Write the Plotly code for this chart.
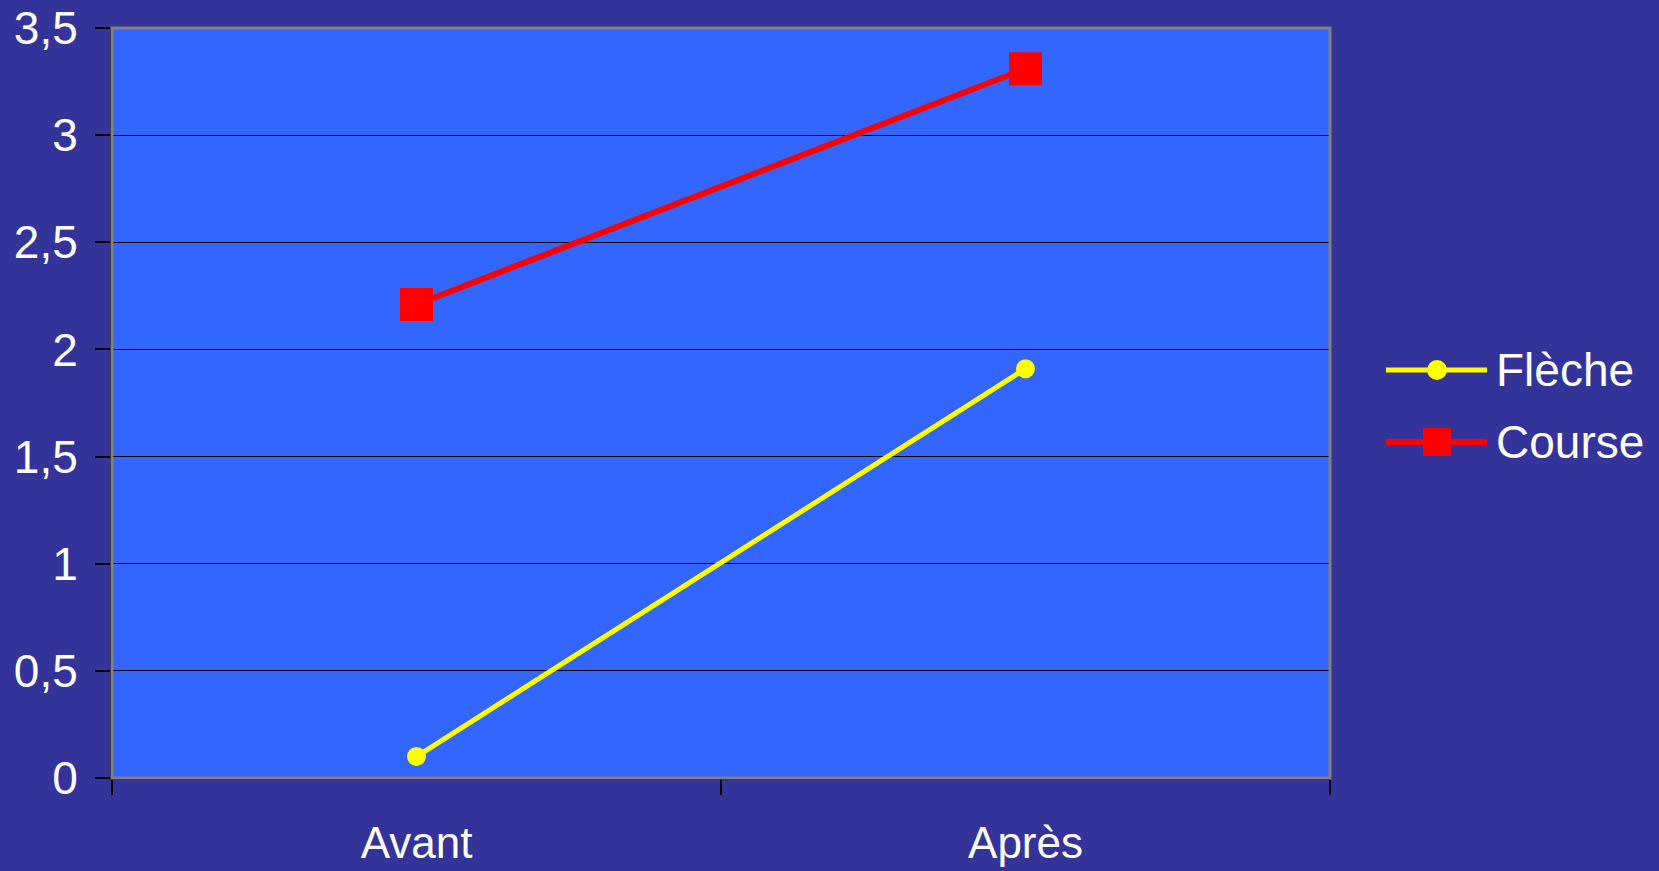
import plotly.graph_objects as go

categories = ["Avant", "Après"]
fleche = [0.1, 1.91]
course = [2.21, 3.31]
y_ticks = [0, 0.5, 1, 1.5, 2, 2.5, 3, 3.5]
y_labels = ["0", "0,5", "1", "1,5", "2", "2,5", "3", "3,5"]

W, H = 1659, 871
L, T, R, B = 112, 28, 329, 93
PW, PH = W - L - R, H - T - B

def px(x):
    return (x - L) / PW

def py(y):
    return (H - B - y) / PH

FONT = "Liberation Sans, Arial, sans-serif"
fig = go.Figure()
fig.add_trace(go.Scatter(x=categories, y=fleche, name="Flèche", mode="lines+markers",
                         line=dict(color="#FFFF00", width=5),
                         marker=dict(symbol="circle", size=19, color="#FFFF00")))
fig.add_trace(go.Scatter(x=categories, y=course, name="Course", mode="lines+markers",
                         line=dict(color="#FF0000", width=6),
                         marker=dict(symbol="square", size=33, color="#FF0000")))

shapes = [dict(type="rect", xref="paper", yref="paper", x0=0, x1=1, y0=0, y1=1,
               line=dict(color="#808080", width=3), layer="above")]
annotations = []
legend_items = [("Flèche", "#FFFF00", "circle", 370, 5), ("Course", "#FF0000", "square", 442, 6)]
for name, col, sym, yy, lw in legend_items:
    shapes.append(dict(type="line", xref="paper", yref="paper", x0=px(1386), x1=px(1487),
                       y0=py(yy), y1=py(yy), line=dict(color=col, width=lw)))
    if sym == "circle":
        shapes.append(dict(type="circle", xref="paper", yref="paper", xsizemode="pixel", ysizemode="pixel",
                           xanchor=px(1437), yanchor=py(yy), x0=-10, x1=10, y0=-10, y1=10,
                           fillcolor=col, line=dict(width=0)))
    else:
        shapes.append(dict(type="rect", xref="paper", yref="paper", xsizemode="pixel", ysizemode="pixel",
                           xanchor=px(1437), yanchor=py(yy), x0=-14, x1=14, y0=-14, y1=14,
                           fillcolor=col, line=dict(width=0)))
    annotations.append(dict(text=name, xref="paper", yref="paper", x=px(1494), y=py(yy),
                            xanchor="left", yanchor="middle", showarrow=False,
                            font=dict(family=FONT, size=46, color="white")))

fig.update_layout(
    width=W, height=H, margin=dict(l=L, r=R, t=T, b=B, autoexpand=False),
    paper_bgcolor="#333399", plot_bgcolor="#3366FF",
    showlegend=False,
    font=dict(family=FONT, size=46, color="white"),
    shapes=shapes, annotations=annotations,
    xaxis=dict(range=[-0.5, 1.5], tickson="boundaries", ticks="outside", ticklen=15,
               tickcolor="black", tickwidth=2, showgrid=False, showline=True,
               linecolor="black", linewidth=2, zeroline=False, automargin=False,
               ticklabelstandoff=25,
               tickfont=dict(size=44, color="white"), fixedrange=True),
    yaxis=dict(range=[0, 3.5], tickvals=y_ticks, ticktext=y_labels, ticks="outside",
               ticklen=15, tickcolor="black", tickwidth=2, showgrid=True, gridcolor="black",
               gridwidth=1, showline=True, linecolor="black", linewidth=2, zeroline=False,
               automargin=False, ticklabelstandoff=8, tickfont=dict(size=46, color="white")),
)
fig.write_html("out.html")
